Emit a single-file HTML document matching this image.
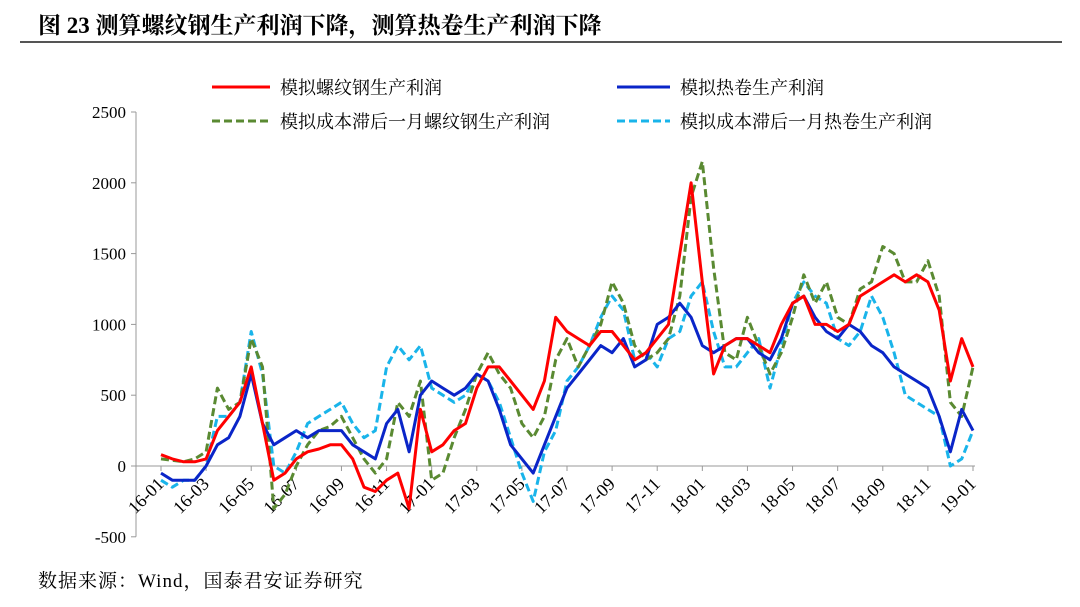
<!DOCTYPE html>
<html><head><meta charset="utf-8"><style>
body{margin:0;background:#fff;width:1080px;height:602px;overflow:hidden;font-family:"Liberation Serif","Noto Serif CJK SC",serif;}
svg text{font-family:"Liberation Serif","Noto Serif CJK SC",serif;}
</style></head><body>
<svg id="c" width="1080" height="602">
<text x="38" y="33" font-size="23" font-weight="bold">图 23 测算螺纹钢生产利润下降，测算热卷生产利润下降</text>
<line x1="20" y1="42" x2="1062" y2="42" stroke="#555" stroke-width="2"/>
<g>
<line x1="212" y1="87" x2="270" y2="87" stroke="#f00" stroke-width="3"/><text x="280" y="94" font-size="18">模拟螺纹钢生产利润</text>
<line x1="617" y1="87" x2="670" y2="87" stroke="#0a25c8" stroke-width="3"/><text x="680" y="94" font-size="18">模拟热卷生产利润</text>
<line x1="212" y1="121" x2="270" y2="121" stroke="#5a8a32" stroke-width="3" stroke-dasharray="8,4"/><text x="280" y="128" font-size="18">模拟成本滞后一月螺纹钢生产利润</text>
<line x1="617" y1="121" x2="670" y2="121" stroke="#19b4ea" stroke-width="3" stroke-dasharray="8,4"/><text x="680" y="128" font-size="18">模拟成本滞后一月热卷生产利润</text>
</g>
<text x="38" y="587" font-size="19" letter-spacing="1">数据来源：Wind，国泰君安证券研究</text>
</svg>
<script>
const yTicks=[2500,2000,1500,1000,500,0,-500];
const xLabels=["16-01","16-03","16-05","16-07","16-09","16-11","17-01","17-03","17-05","17-07","17-09","17-11","18-01","18-03","18-05","18-07","18-09","18-11","19-01"];
const rebar=[80,50,30,30,50,250,350,450,700,300,-100,-50,50,100,120,150,150,50,-150,-180,-100,-50,-300,400,100,150,250,300,550,700,700,600,500,400,600,1050,950,900,850,950,950,850,750,800,900,1000,1500,2000,1300,650,850,900,900,850,800,1000,1150,1200,1000,1000,950,1000,1200,1250,1300,1350,1300,1350,1300,1100,600,900,700];
const hrc=[-50,-100,-100,-100,0,150,200,350,650,300,150,200,250,200,250,250,250,150,100,50,300,400,100,500,600,550,500,550,650,600,400,150,50,-50,150,350,550,650,750,850,800,900,700,750,1000,1050,1150,1050,850,800,850,900,900,800,750,900,1150,1200,1050,950,900,1000,950,850,800,700,650,600,550,350,100,400,250];
const rebarLag=[50,40,30,50,100,550,400,450,900,700,-300,-200,0,150,250,280,350,200,50,-50,50,450,350,600,-100,-50,200,400,650,800,650,550,300,200,350,750,900,700,850,1000,1300,1150,850,750,800,900,1200,1900,2150,1400,800,750,1050,850,650,800,1050,1350,1150,1300,1050,1000,1250,1300,1550,1500,1300,1300,1450,1200,450,350,700];
const hrcLag=[-100,-150,-100,-100,0,350,350,450,950,650,0,-50,100,300,350,400,450,300,200,250,700,850,750,850,550,500,450,500,650,600,450,200,-50,-250,100,250,600,700,850,1050,1200,1100,750,800,700,900,950,1200,1300,950,700,700,800,900,550,850,1150,1300,1200,1150,900,850,950,1200,1050,800,500,450,400,350,0,50,250];
const svg=document.getElementById('c'),NS='http://www.w3.org/2000/svg';
const X0=161,X1=973,Y0=466,PX=354/2500;
const n=rebar.length;
function xs(i){return X0+i*(X1-X0)/(n-1);}
function ys(v){return Y0-v*PX;}
function mk(t,a){const e=document.createElementNS(NS,t);for(const k in a)e.setAttribute(k,a[k]);svg.appendChild(e);return e;}
const ax=mk('line',{x1:136,y1:ys(2500),x2:136,y2:ys(-500),stroke:'#999'});


yTicks.forEach(v=>{
 const t=mk('line',{x1:131,y1:ys(v),x2:136,y2:ys(v),stroke:'#999'});
 
 
 const l=mk('text',{x:126,y:ys(v)+6,'text-anchor':'end','font-size':17});
 l.textContent=v;
 
 
});
const xa=mk('line',{x1:136,y1:Y0,x2:X1+2,y2:Y0,stroke:'#999'});


xLabels.forEach((s,i)=>{
 const x=X0+i*(X1-X0)/(xLabels.length-1);
 const t=mk('line',{x1:x,y1:Y0,x2:x,y2:Y0+5,stroke:'#999'});
 
 
 const l=mk('text',{x:x+4,y:Y0+19,'text-anchor':'end','font-size':18,transform:`rotate(-45 ${x+4} ${Y0+19})`});
 l.textContent=s;
 
 
});
function line(d,c,dash,name){
 const p=mk('path',{d:d.map((v,i)=>(i?'L':'M')+xs(i).toFixed(1)+','+ys(v).toFixed(1)).join(''),fill:'none',stroke:c,'stroke-width':3,'stroke-linejoin':'round'});
 if(dash)p.setAttribute('stroke-dasharray','8,4');
 
 
}
line(hrcLag,'#19b4ea',true,'series-hrc-lag');
line(rebarLag,'#5a8a32',true,'series-rebar-lag');
line(hrc,'#0a25c8',false,'series-hrc');
line(rebar,'#f00',false,'series-rebar');
</script>
</body></html>
